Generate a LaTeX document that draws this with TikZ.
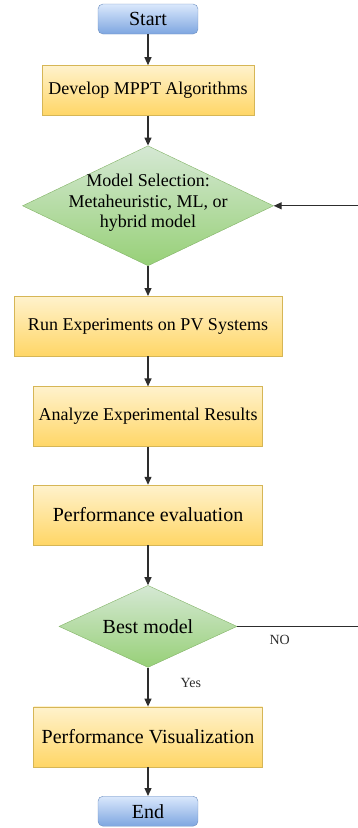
\documentclass[tikz,border=0pt]{standalone}
\usepackage{fontspec}
\setmainfont{Liberation Serif}
\usetikzlibrary{arrows.meta,positioning,shapes.geometric}
\definecolor{bluetop}   {RGB}{218,232,252}
\definecolor{bluebot}   {RGB}{126,166,224}
\definecolor{blueline}  {RGB}{108,142,191}
\definecolor{yellowtop} {RGB}{255,242,204}
\definecolor{yellowbot} {RGB}{255,214,102}
\definecolor{yellowline}{RGB}{214,182,86}
\definecolor{greentop}  {RGB}{213,232,212}
\definecolor{greenbot}  {RGB}{151,208,119}
\definecolor{greenline} {RGB}{130,179,102}
\definecolor{arrowgray} {RGB}{45,45,45}

\begin{document}
\begin{tikzpicture}[
    x=1pt,y=-1pt,
    node distance=30pt,
    terminal/.style={rectangle,rounded corners=5pt,draw=blueline,top color=bluetop,bottom color=bluebot,
                minimum width=100pt,minimum height=30pt,font=\rmfamily\fontsize{20}{23}\selectfont},
    box/.style={rectangle,draw=yellowline,top color=yellowtop,bottom color=yellowbot,
                minimum width=229pt,minimum height=60pt,align=center,font=\rmfamily\fontsize{18}{21}\selectfont},
    decision/.style={diamond,aspect=2.2,draw=greenline,top color=greentop,bottom color=greenbot,inner sep=0pt,align=center},
    arrow/.style={-{Triangle[length=8pt,width=7pt]},line width=1.2pt,arrowgray},
    tag/.style={font=\rmfamily\fontsize{14}{16}\selectfont,inner sep=0pt}
  ]
    \useasboundingbox (0,0) rectangle (358,828);
    \node[terminal] (start) at (148,19) {Start};
    \node[box,below=31pt of start,minimum width=212pt,minimum height=50pt] (dev) {Develop MPPT Algorithms};
    \node[decision,below=30pt of dev,minimum width=251pt,minimum height=120pt] (sel) {};
    \node[align=center,font=\rmfamily\fontsize{18}{20.5}\selectfont] (seltext) at ([yshift=3pt]sel) {Model Selection:\\Metaheuristic, ML, or\\hybrid model};
    \node[box,below=30pt of sel,minimum width=268pt] (run) {Run Experiments on PV Systems};
    \node[box,below=30pt of run] (ana) {Analyze Experimental Results};
    \node[box,below=38pt of ana,font=\rmfamily\fontsize{20}{23}\selectfont] (perf) {Performance evaluation};
    \node[decision,below=40pt of perf,minimum width=178pt,minimum height=82pt,
          font=\rmfamily\fontsize{20}{23}\selectfont] (best) {Best model};
    \node[box,below=39pt of best,font=\rmfamily\fontsize{20}{23}\selectfont] (viz) {Performance Visualization};
    \node[terminal,below=29pt of viz] (stop) {End};
    \coordinate (loop) at (366,0);
    \draw[arrow] (start) -- (dev);
    \draw[arrow] (dev) -- (sel);
    \draw[arrow] (sel) -- (run);
    \draw[arrow] (run) -- (ana);
    \draw[arrow] (ana) -- (perf);
    \draw[arrow] (perf) -- (best);
    \draw[arrow] (best) -- node[tag,pos=0.4,right=32pt]{Yes} (viz);
    \draw[arrow] (viz) -- (stop);
    \draw[arrow] (best.east) -- node[tag,pos=0.33,below=8pt]{NO} (best.east -| loop)
        -- (sel.east -| loop) -- (sel.east);
  \end{tikzpicture}
\end{document}
